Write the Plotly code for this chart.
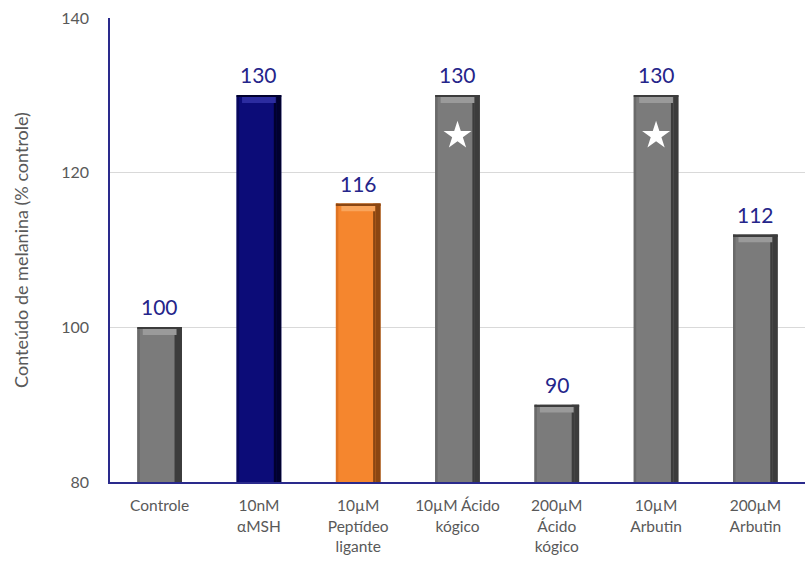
import plotly.graph_objects as go

# Melanin content per treatment (% of control)
categories = [
    "Controle",
    "10nM<br>αMSH",
    "10µM<br>Peptídeo<br>ligante",
    "10µM Ácido<br>kógico",
    "200µM<br>Ácido<br>kógico",
    "10µM<br>Arbutin",
    "200µM<br>Arbutin",
]
values = [100, 130, 116, 130, 90, 130, 112]
# significance markers (white stars) drawn inside selected bars
star_categories = ["10µM Ácido<br>kógico", "10µM<br>Arbutin"]
star_values = [124.8, 124.8]

y_ticks = [80, 100, 120, 140]

GRAY = ("#7b7b7b", "#3c3c3c", "#6a6a6a", "#9a9a9a")
NAVY = ("#0c0c78", "#00002e", "#08085e", "#2c2ca0")
ORANGE = ("#f5862e", "#8a4612", "#e07524", "#f9a55c")
# (body, right edge, left edge, top bevel) per bar
palette = [GRAY, NAVY, ORANGE, GRAY, GRAY, GRAY, GRAY]

BASE = 80
W = 0.45
label_font = dict(family="Lato, 'Open Sans', sans-serif", size=21, color="#25258a")

fig = go.Figure()


def layer(width, offset, colors, band=None):
    """One overlaid slice of every bar."""
    if band is None:
        y = [v - BASE for v in values]
        base = BASE
    else:
        y = [band] * len(values)
        base = [v - band for v in values]
    fig.add_trace(go.Bar(
        x=categories, y=y, base=base, width=width, offset=offset,
        marker=dict(color=colors, line=dict(width=0)),
        hoverinfo="skip", showlegend=False,
    ))


# body
layer(W, -W / 2, [p[0] for p in palette])
# shaded right edge
layer(0.05, W / 2 - 0.05, [p[1] for p in palette])
layer(0.025, W / 2 - 0.075, [p[1] for p in palette])
# slightly darker left edge
layer(0.025, -W / 2, [p[2] for p in palette])
# bevelled top highlight
layer(0.34, -0.17, [p[3] for p in palette], band=1.0)
layer(W, -W / 2, [p[1] for p in palette], band=0.2)

# stars
fig.add_trace(go.Scatter(
    x=star_categories, y=star_values, mode="markers",
    marker=dict(symbol="star", size=21, color="white", line=dict(width=0)),
    hoverinfo="skip", showlegend=False,
))

# value labels above each bar
for cat, v in zip(categories, values):
    fig.add_annotation(
        x=cat, y=v, text=str(v), showarrow=False,
        yanchor="bottom", yshift=6, font=label_font,
    )

fig.update_layout(
    width=805, height=565,
    margin=dict(l=110, r=0, t=18, b=83),
    barmode="overlay",
    paper_bgcolor="white", plot_bgcolor="white",
    font=dict(family="Lato, 'Open Sans', sans-serif", color="#595959"),
    xaxis=dict(
        showgrid=False, showline=True, linecolor="#2a2a8c", linewidth=1.5,
        ticks="outside", ticklen=9, tickcolor="rgba(0,0,0,0)",
        tickfont=dict(size=15.5, color="#595959"),
        fixedrange=True,
    ),
    yaxis=dict(
        range=[80, 140], tickvals=y_ticks,
        showgrid=True, gridcolor="#d9d9d9", gridwidth=1,
        showline=True, linecolor="#2a2a8c", linewidth=1.5,
        ticks="", ticklabelstandoff=16,
        tickfont=dict(size=16, color="#595959"),
        title=dict(text="Conteúdo de melanina (% controle)", standoff=28,
                   font=dict(size=18, color="#595959")),
        zeroline=False,
    ),
)

fig.write_html("out.html")
